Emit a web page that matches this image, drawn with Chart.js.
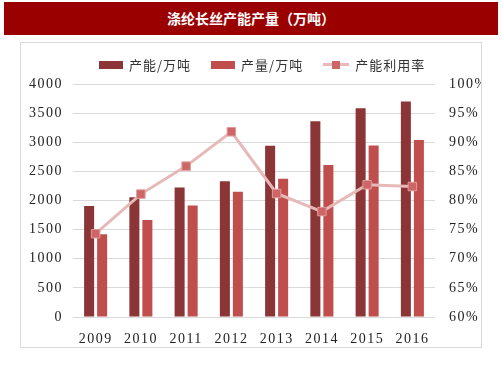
<!DOCTYPE html>
<html>
<head>
<meta charset="utf-8">
<script src="https://cdn.jsdelivr.net/npm/chart.js@4/dist/chart.umd.min.js"></script>
<style>
  body { margin: 0; background: #fff; width: 503px; height: 378px; position: relative; overflow: hidden; }
  #title {
    position: absolute; left: 4px; top: 2px; width: 494px; height: 33px;
    background: #9a0000; color: #fff; font: bold 14px "Noto Sans CJK SC", sans-serif;
    text-align: center; line-height: 33px;
  }
  #box {
    position: absolute; left: 20px; top: 42px; width: 460px; height: 304px;
    border: 1px solid #d9d9d9;
  }
  #legend {
    position: absolute; left: 78px; top: 12px; display: flex; gap: 20px;
    font: 13px "Noto Sans CJK SC", sans-serif; color: #333; align-items: center;
  }
  .item { display: flex; align-items: center; gap: 6px; letter-spacing: 1px; }
</style>
</head>
<body>
<div id="title">涤纶长丝产能产量（万吨）</div>
<div id="box">
  <div id="legend"></div>
  <canvas id="myChart" width="460" height="304"></canvas>
</div>
<script>
var years = ['2009', '2010', '2011', '2012', '2013', '2014', '2015', '2016'];
var capacity = [1905, 2055, 2225, 2330, 2940, 3360, 3585, 3700];
var output = [1420, 1665, 1915, 2150, 2375, 2610, 2945, 3040];
var utilization = [74.3, 81.1, 85.9, 91.8, 81.2, 78.1, 82.7, 82.4];

var darkRed = '#8c3536';
var midRed = '#bf4e4c';
var pink = '#e6b9b8';
var marker = '#cd6767';

const ctx = document.getElementById('myChart');

var spacing = {
    id: 'spacing',
    beforeDraw: function (chart) {
        chart.ctx.letterSpacing = '1.5px';
    }
};

var c = new Chart(ctx, {
    type: 'bar',
    data: {
        labels: years,
        datasets: [{
            type: 'line',
            label: '产能利用率',
            data: utilization,
            yAxisID: 'y1',
            borderColor: pink,
            borderWidth: 3,
            pointStyle: 'rect',
            pointRadius: 6,
            pointBackgroundColor: marker,
            pointBorderColor: '#e09a9a',
            pointBorderWidth: 1,
            order: 0
        }, {
            label: '产能/万吨',
            data: capacity,
            backgroundColor: darkRed,
            yAxisID: 'y',
            order: 1
        }, {
            label: '产量/万吨',
            data: output,
            backgroundColor: midRed,
            yAxisID: 'y',
            order: 1
        }]
    },
    options: {
        responsive: false,
        animation: false,
        categoryPercentage: 0.575,
        barPercentage: 0.77,
        layout: { padding: { top: 41, bottom: 0, left: 0, right: 0 } },
        plugins: {
            legend: { display: false },
            tooltip: { enabled: false }
        },
        scales: {
            x: {
                grid: { display: false },
                border: { display: false },
                ticks: {
                    color: '#222',
                    padding: 6,
                    font: { family: 'Liberation Serif', size: 14 }
                },
                afterFit: function (s) { s.height = 30; }
            },
            y: {
                position: 'left',
                min: 0,
                max: 4000,
                ticks: {
                    stepSize: 500,
                    color: '#222',
                    padding: 10,
                    font: { family: 'Liberation Serif', size: 14 },
                    callback: function (v) { return String(v); }
                },
                grid: { color: '#d9d9d9', drawTicks: false },
                border: { display: false },
                afterFit: function (s) { s.width = 52; }
            },
            y1: {
                position: 'right',
                min: 60,
                max: 100,
                ticks: {
                    stepSize: 5,
                    color: '#222',
                    padding: 14,
                    font: { family: 'Liberation Serif', size: 14 },
                    callback: function (v) { return v + '%'; }
                },
                grid: { display: false, drawTicks: false },
                border: { display: false },
                afterFit: function (s) { s.width = 46; }
            }
        }
    },
    plugins: [spacing]
});

// legend built from the datasets, bars first then line
var legendOrder = [1, 2, 0];
legendOrder.forEach(function (i) {
    var ds = c.data.datasets[i];
    var el = document.createElement('div');
    el.className = 'item';
    var sw = document.createElement('span');
    if (ds.type === 'line') {
        sw.style.cssText = 'position:relative;width:26px;height:8px;display:inline-block;';
        sw.innerHTML = '<span style="position:absolute;left:0;top:2.5px;width:26px;height:3px;background:' + pink + '"></span>' +
            '<span style="position:absolute;left:9px;top:0;width:8px;height:8px;background:' + marker + '"></span>';
    } else {
        sw.style.cssText = 'width:24px;height:8px;display:inline-block;background:' + ds.backgroundColor;
    }
    el.appendChild(sw);
    var t = document.createElement('span');
    t.textContent = ds.label;
    el.appendChild(t);
    document.getElementById('legend').appendChild(el);
});
</script>
</body>
</html>
